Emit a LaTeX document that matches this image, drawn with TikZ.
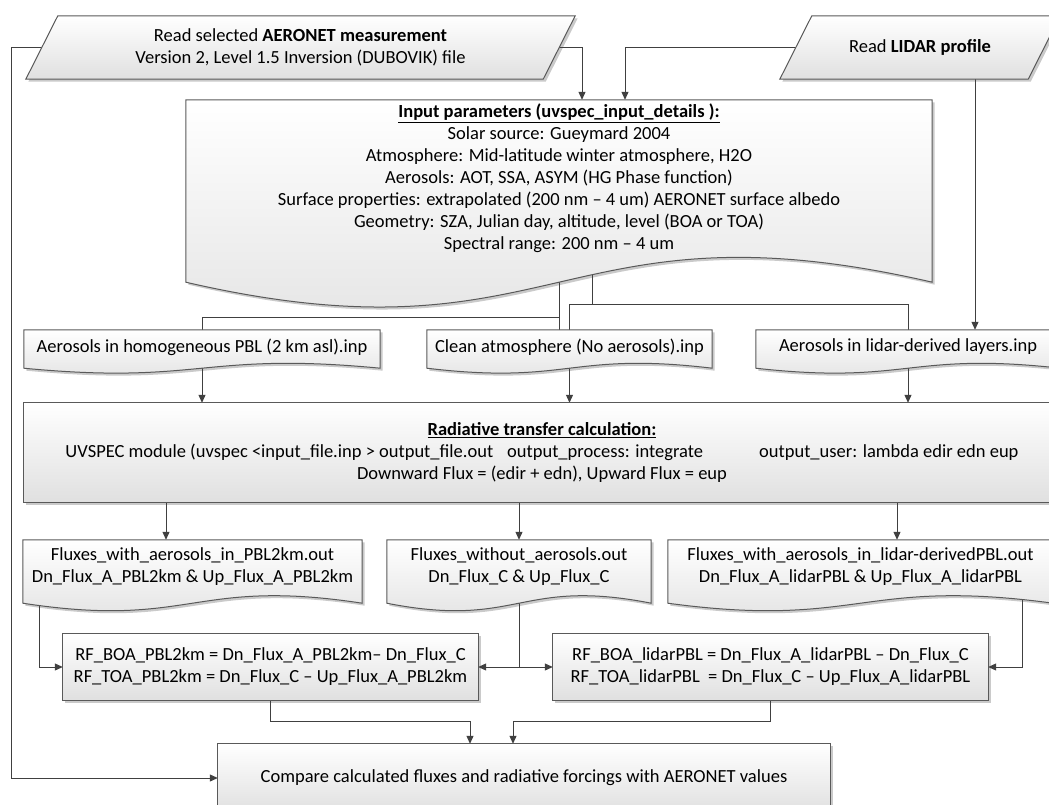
\documentclass[tikz,border=0pt]{standalone}
\usepackage{fontspec}
\setmainfont{Carlito}
\usepackage{xcolor}
\usepackage{tikz}
\usetikzlibrary{arrows.meta, positioning, calc}

\definecolor{linegray}{HTML}{595959}
\definecolor{wiregray}{HTML}{404040}
\definecolor{shadegray}{HTML}{E0E0E0}
\definecolor{shadowgray}{HTML}{CACACA}

\pgfdeclarelayer{shadow}
\pgfdeclarelayer{wires}
\pgfdeclarelayer{background}
\pgfsetlayers{shadow,wires,background,main}

% Outlines taken from the anchors of a text node
\newcommand{\docpath}[3]{(#1.north west) -- (#1.north east) -- ([yshift=-#2]#1.south east) .. controls ([yshift=#3-#2]#1.south) and ([yshift=-#3-#2]#1.south) .. ([yshift=-#2]#1.south west) -- cycle}
\newcommand{\parapath}[2]{([xshift=-#2]#1.south west) -- ([xshift=#2]#1.north west) -- ([xshift=#2]#1.north east) -- ([xshift=-#2]#1.south east) -- cycle}
\newcommand{\rectpath}[1]{(#1.south west) rectangle (#1.north east)}

% Shaded outline with its shadow
\newcommand{\drawshape}[1]{%
	\begin{pgfonlayer}{shadow}
		\fill[shadowgray, transform canvas={shift={(2.5pt,-2.5pt)}}] #1;
	\end{pgfonlayer}
	\begin{pgfonlayer}{background}
		\shadedraw[boxshade] #1;
	\end{pgfonlayer}}

\begin{document}
\begin{tikzpicture}[x=1pt, y=-1pt,
		txt/.style={align=center, inner sep=0pt, font=\fontsize{18.5}{22}\selectfont},
		boxshade/.style={top color=white, bottom color=shadegray, draw=linegray, line width=1pt},
		link/.style={draw=wiregray, line width=1pt},
		conn/.style={link, -{Triangle[length=8pt,width=7pt]}}]
		
		\useasboundingbox (0,0) rectangle (1049,805);
		
		% Read files
		\node[txt, minimum width=517pt, minimum height=63pt] (aero) at (300.5,47.5) {Read selected \textbf{AERONET measurement}\\Version 2, Level 1.5 Inversion (DUBOVIK) file};
		\node[txt, minimum width=248pt, minimum height=63pt] (lidar) at (920,47.5) {Read \textbf{LIDAR profile}};
		
		% Input parameters
		\node[txt, minimum width=746pt, minimum height=157pt] (input) at (559,178.5) {\underline{\textbf{Input parameters (uvspec\_input\_details ):}}\\
			Solar source: Gueymard 2004\\
			Atmosphere: Mid-latitude winter atmosphere, H2O\\
			Aerosols: AOT, SSA, ASYM (HG Phase function)\\
			Surface properties: extrapolated (200 nm -- 4 um) AERONET surface albedo\\
			Geometry: SZA, Julian day, altitude, level (BOA or TOA)\\
			Spectral range: 200 nm -- 4 um};
		
		% Input files
		\node[txt, minimum width=356pt, minimum height=34pt] (pbl) at (202,347) {Aerosols in homogeneous PBL (2 km asl).inp};
		\node[txt, minimum width=285pt, minimum height=34pt] (clean) at (569.5,347) {Clean atmosphere (No aerosols).inp};
		\node[txt, minimum width=304pt, minimum height=34pt] (lidarinp) at (908,347) {Aerosols in lidar-derived layers.inp};
		
		% Radiative transfer
		\node[txt, minimum width=1036pt, minimum height=99pt] (rad) at (542,452.5) {\underline{\textbf{Radiative transfer calculation:}}\\
			UVSPEC module (uvspec <input\_file.inp > output\_file.out\hspace{14pt}output\_process: integrate\hspace{56pt}output\_user: lambda edir edn eup\\
			Downward Flux = (edir + edn), Upward Flux = eup};
		
		% Output files
		\node[txt, minimum width=339pt, minimum height=53pt] (pblout) at (192.5,566.5) {Fluxes\_with\_aerosols\_in\_PBL2km.out\\Dn\_Flux\_A\_PBL2km \& Up\_Flux\_A\_PBL2km};
		\node[txt, minimum width=264pt, minimum height=53pt] (noout) at (519,566.5) {Fluxes\_without\_aerosols.out\\Dn\_Flux\_C \& Up\_Flux\_C};
		\node[txt, minimum width=385pt, minimum height=53pt] (lidarout) at (860.5,566.5) {Fluxes\_with\_aerosols\_in\_lidar-derivedPBL.out\\Dn\_Flux\_A\_lidarPBL \& Up\_Flux\_A\_lidarPBL};
		
		% Forcings
		\node[txt, minimum width=415pt, minimum height=66pt] (rfpbl) at (270.5,667) {RF\_BOA\_PBL2km = Dn\_Flux\_A\_PBL2km-- Dn\_Flux\_C\\RF\_TOA\_PBL2km = Dn\_Flux\_C -- Up\_Flux\_A\_PBL2km};
		\node[txt, minimum width=435pt, minimum height=66pt] (rflidar) at (770.5,667) {RF\_BOA\_lidarPBL = Dn\_Flux\_A\_lidarPBL -- Dn\_Flux\_C\\RF\_TOA\_lidarPBL\ \ = Dn\_Flux\_C -- Up\_Flux\_A\_lidarPBL};
		
		% Comparison
		\node[txt, minimum width=612pt, minimum height=68pt] (compare) at (524,778) {Compare calculated fluxes and radiative forcings with AERONET values};
		
		% Shapes
		\drawshape{\parapath{aero}{16pt}}
		\drawshape{\parapath{lidar}{16pt}}
		\drawshape{\docpath{input}{25pt}{86pt}}
		\foreach \n in {pbl,clean,lidarinp}{
			\drawshape{\docpath{\n}{4pt}{17pt}}
		}
		\drawshape{\rectpath{rad}}
		\foreach \n in {pblout,noout,lidarout}{
			\drawshape{\docpath{\n}{10pt}{26pt}}
		}
		\foreach \n in {rfpbl,rflidar,compare}{
			\drawshape{\rectpath{\n}}
		}
		
		\begin{pgfonlayer}{wires}
			% Files into the input parameters
			\draw[conn] (aero.east) -| ([xshift=23pt]input.north);
			\draw[conn] (lidar.west) -| ([xshift=66pt]input.north);
			\draw[conn] ([xshift=55pt]lidar.south) -- ([xshift=67pt]lidarinp.north);
			\draw[conn] (aero.west) -- ++(-30pt,0pt) |- (compare.west);
			
			% Input parameters into the three files
			\draw[link] (input.south) |- ([yshift=12pt]pbl.north) -- (pbl.north);
			\draw[link] (input.south) -- (input.south |- clean.north);
			\draw[link] ([xshift=33pt]input.south) |- ([yshift=25pt]clean.north) -- (clean.north);
			\draw[link] ([xshift=33pt]input.south) |- ([yshift=25pt]lidarinp.north) -- (lidarinp.north);
			
			% Files into the radiative transfer
			\foreach \n in {pbl,clean,lidarinp}
			\draw[conn] (\n.south) -- (\n.south |- rad.north);
			
			% Radiative transfer into the output files
			\draw[conn] ([xshift=-26.5pt]pblout.north |- rad.south) -- ([xshift=-26.5pt]pblout.north);
			\draw[conn] (noout.north |- rad.south) -- (noout.north);
			\draw[conn] ([xshift=36.5pt]lidarout.north |- rad.south) -- ([xshift=36.5pt]lidarout.north);
			
			% Output files into the forcings
			\draw[conn] ([xshift=-153.5pt]pblout.south) |- (rfpbl.west);
			\draw[conn] (noout.south) |- (rfpbl.east);
			\draw[conn] (noout.south) |- (rflidar.west);
			\draw[conn] ([xshift=161.5pt]lidarout.south) |- (rflidar.east);
			
			% Forcings into the comparison
			\draw[conn] (rfpbl.south) |- ([xshift=-54pt,yshift=22pt]compare.north) -- ([xshift=-54pt]compare.north);
			\draw[conn] (rflidar.south) |- ([xshift=-11pt,yshift=22pt]compare.north) -- ([xshift=-11pt]compare.north);
		\end{pgfonlayer}
		
	\end{tikzpicture}
\end{document}
